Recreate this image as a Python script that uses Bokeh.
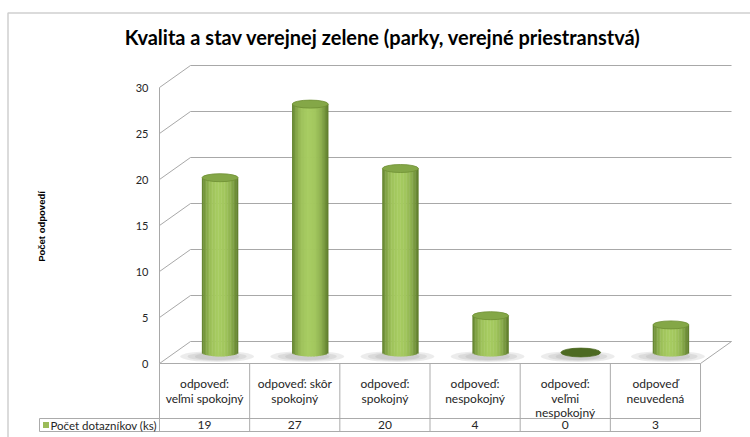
import numpy as np
from bokeh.plotting import figure
from bokeh.models import Range1d
from bokeh.core.properties import value
from bokeh.embed import file_html
from bokeh.resources import INLINE

# ---------------- data ----------------
title = "Kvalita a stav verejnej zelene (parky, verejné priestranstvá)"
y_title = "Počet odpovedí"
series_name = "Počet dotazníkov (ks)"
categories = [
    "odpoveď:\nveľmi spokojný",
    "odpoveď: skôr\nspokojný",
    "odpoveď:\nspokojný",
    "odpoveď:\nnespokojný",
    "odpoveď:\nveľmi\nnespokojný",
    "odpoveď\nneuvedená",
]
counts = [19, 27, 20, 4, 0, 3]
y_ticks = [0, 5, 10, 15, 20, 25, 30]

# ---------------- layout (pixels) ----------------
W, H = 750, 437
COLW = 90.17          # px per category on the front plane
PXU = 9.2             # px per unit of value
X0 = 159              # canvas x of category edge 0
Y0 = 363              # canvas y (from top) of value 0 (front)
DXU = 31 / COLW       # depth offset (category units)
DYU = 22 / PXU        # depth offset (value units)

x_start = -X0 / COLW
y_start = -(H - Y0) / PXU


def rx(px):
    return (px - X0) / COLW


def ry(py):
    return (Y0 - py) / PXU


p = figure(width=W, height=H,
           x_range=Range1d(x_start, x_start + W / COLW),
           y_range=Range1d(y_start, y_start + H / PXU),
           output_backend="svg", toolbar_location=None, min_border=0,
           x_axis_location=None, y_axis_location=None)
p.grid.visible = False
p.outline_line_color = None
p.background_fill_color = "white"
p.border_fill_color = "white"

FONT = value("Lato")
GRID = "#a8a8a8"
TXT = "#262626"
ncat = len(categories)

# outer chart border
p.line(x=[rx(7.5), rx(7.5), rx(760)], y=[ry(450), ry(12.5), ry(12.5)],
       line_color="#cfcfcf", line_width=1.5)

# title
p.text(x=[rx(382.5)], y=[ry(36)], text=[title], text_font=FONT,
       text_font_style="bold", text_font_size="20px", text_align="center",
       text_baseline="middle", text_color="black")

# back wall gridlines + side wall diagonals
p.multi_line(xs=[[DXU, ncat + DXU] for v in y_ticks],
             ys=[[v + DYU, v + DYU] for v in y_ticks],
             line_color=GRID, line_width=1)
p.multi_line(xs=[[0, DXU] for v in y_ticks],
             ys=[[v, v + DYU] for v in y_ticks],
             line_color=GRID, line_width=1)
# front value axis
p.line(x=[0, 0], y=[0, max(y_ticks)], line_color=GRID, line_width=1)
# floor right edge
p.line(x=[ncat, ncat + DXU], y=[0, DYU], line_color=GRID, line_width=1)

# tick labels
p.text(x=[rx(148)] * len(y_ticks), y=y_ticks, text=[str(t) for t in y_ticks],
       text_font=FONT, text_font_size="11px", text_align="right",
       text_baseline="middle", text_color=TXT)

# y axis title
p.text(x=[rx(41)], y=[ry(226)], text=[y_title], angle=np.pi / 2,
       text_font=value("Liberation Sans"), text_font_style="bold",
       text_font_size="9.5px", text_align="center", text_baseline="middle",
       text_color="black")

# ---------------- cylinders ----------------
CW = 36 / COLW
EH = 8 / PXU
base = DYU / 2
centers = [i + 0.5 + DXU / 2 for i in range(ncat)]

# shadows
for w_f, h_f in [(1.0, 1.0), (0.8, 0.8), (0.6, 0.65)]:
    p.ellipse(x=[c - 3 / COLW for c in centers],
              y=[base - 4 / PXU] * ncat,
              width=0.82 * w_f, height=1.2 * h_f,
              fill_color="#7a7a7a", fill_alpha=0.14, line_color=None)

light = np.array([168, 205, 98])
dark = np.array([88, 118, 40])
NS = 24
us = -1 + (2 * np.arange(NS) + 1) / NS
s_prof = np.interp(us, [-1, -0.8, -0.5, -0.1, 0.3, 0.6, 0.85, 1],
                   [0.12, 0.5, 0.88, 1.0, 0.92, 0.68, 0.32, 0.05])
strip_cols = ["#%02x%02x%02x" % tuple((dark + (light - dark) * s).astype(int)) for s in s_prof]

sx, sb, st, sc = [], [], [], []
for c, v in zip(centers, counts):
    if v <= 0:
        continue
    for u, col in zip(us, strip_cols):
        sx.append(c + u * CW / 2)
        sb.append(base - EH / 2 * np.sqrt(max(0.0, 1 - u * u)))
        st.append(base + v)
        sc.append(col)
p.vbar(x=sx, width=CW / NS * 1.3, bottom=sb, top=st, fill_color=sc, line_color=None)

top_cols = ["#4d6a22" if v == 0 else "#84a747" for v in counts]
top_lines = ["#4d6a22" if v == 0 else "#6e8f33" for v in counts]
p.ellipse(x=centers, y=[base + v for v in counts],
          width=[CW * (1.1 if v == 0 else 1.0) for v in counts],
          height=[EH * (1.1 if v == 0 else 1.0) for v in counts],
          fill_color=top_cols, line_color=top_lines, line_width=0.8)

# ---------------- data table ----------------
TL = "#ababab"
ROW2_TOP, ROW2_BOT = 418, 431
p.multi_line(xs=[[0, ncat], [rx(39), ncat], [rx(39), ncat]],
             ys=[[0, 0], [ry(ROW2_TOP)] * 2, [ry(ROW2_BOT)] * 2],
             line_color=TL, line_width=1)
p.multi_line(xs=[[k, k] for k in range(ncat + 1)] + [[rx(39), rx(39)]],
             ys=[[0, ry(ROW2_BOT)] for k in range(ncat + 1)] + [[ry(ROW2_TOP), ry(ROW2_BOT)]],
             line_color=TL, line_width=1)

p.text(x=[i + 0.5 for i in range(ncat)], y=[ry(375.5)] * ncat, text=categories,
       text_font=FONT, text_font_size="12px", text_align="center",
       text_baseline="top", text_line_height=0.98, text_color=TXT)
p.text(x=[i + 0.5 for i in range(ncat)], y=[ry(424.5)] * ncat,
       text=[str(v) for v in counts], text_font=FONT, text_font_size="12px",
       text_align="center", text_baseline="middle", text_color=TXT)
p.scatter(x=[rx(45.5)], y=[ry(424.5)], marker="square", size=6,
          fill_color="#9bbb59", line_color=None)
p.text(x=[rx(50)], y=[ry(424.5)], text=[series_name], text_font=FONT,
       text_font_size="11.5px", text_align="left", text_baseline="middle",
       text_color=TXT)

open("out.html", "w").write(file_html(p, INLINE))
